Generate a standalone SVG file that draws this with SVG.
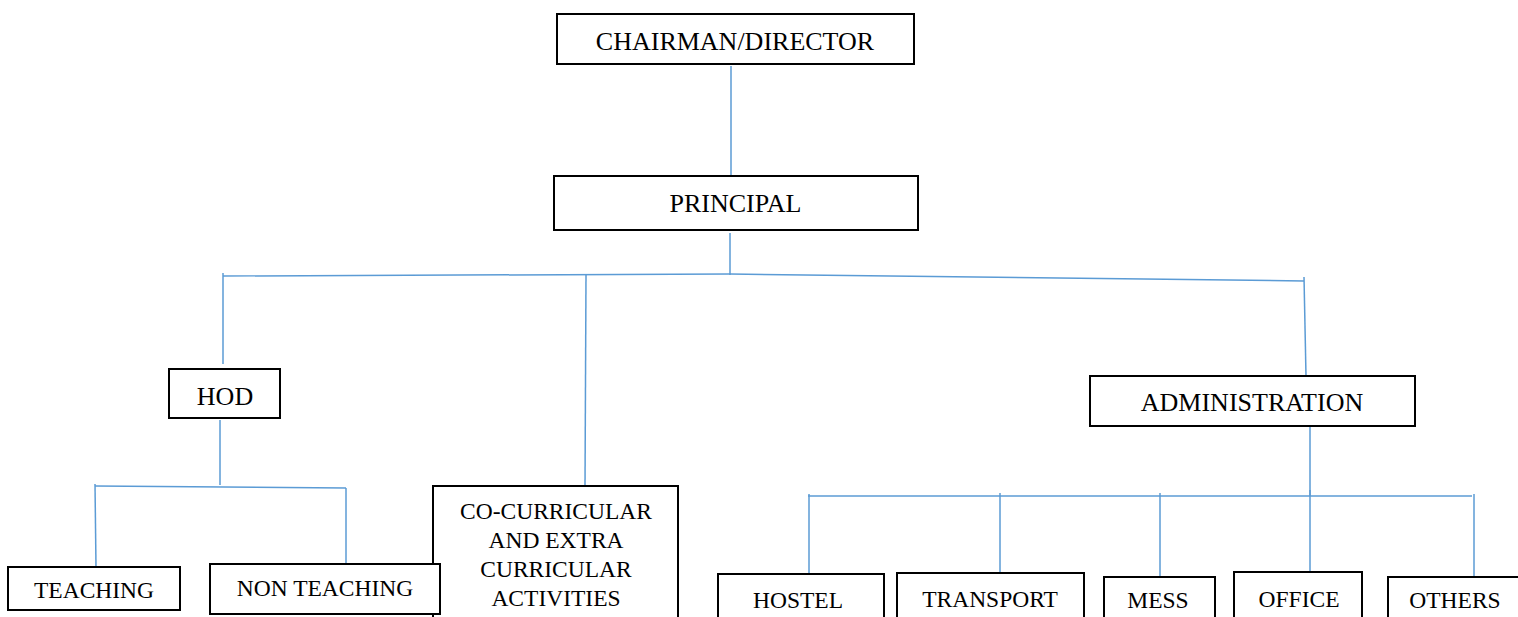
<svg xmlns="http://www.w3.org/2000/svg" width="1518" height="617" viewBox="0 0 1518 617">
<style>
.box{fill:#fff;stroke:#000;stroke-width:2}
.t{font-family:"Liberation Serif","Times New Roman",serif;fill:#000;text-anchor:middle}
.big{font-size:26px}
.sm{font-size:23.5px}
.c{fill:none;stroke:#5B9BD5;stroke-width:1.5}
</style>
<rect width="1518" height="617" fill="#fff"/>
<g id="connectors">
<path class="c" d="M731 66V176"/>
<path class="c" d="M730 233V275"/>
<path class="c" d="M223 276L730 274L1304 281"/>
<path class="c" d="M223 273V364"/>
<path class="c" d="M586 275L585 486"/>
<path class="c" d="M1304 277L1306 376"/>
<path class="c" d="M220 420V485"/>
<path class="c" d="M95 486L346 488"/>
<path class="c" d="M95 484L96 567"/>
<path class="c" d="M346 488V567"/>
<path class="c" d="M1310 426V496"/>
<path class="c" d="M808 496H1472"/>
<path class="c" d="M809 494V576"/>
<path class="c" d="M1000 493V578"/>
<path class="c" d="M1160 493V579"/>
<path class="c" d="M1310 490V577"/>
<path class="c" d="M1474 494V580"/>
</g>
<g id="chairman"><rect class="box" x="557" y="14" width="357" height="50"/><text class="t big" x="735" y="50">CHAIRMAN/DIRECTOR</text></g>
<g id="principal"><rect class="box" x="554" y="176" width="364" height="54"/><text class="t big" x="735.5" y="212">PRINCIPAL</text></g>
<g id="hod"><rect class="box" x="169" y="369" width="111" height="49"/><text class="t big" x="225" y="405">HOD</text></g>
<g id="administration"><rect class="box" x="1090" y="376" width="325" height="50"/><text class="t big" x="1252" y="411">ADMINISTRATION</text></g>
<g id="cocurricular"><rect class="box" x="433" y="486" width="245" height="140"/>
<text class="t sm" x="556" y="519">CO-CURRICULAR</text>
<text class="t sm" x="556" y="548">AND EXTRA</text>
<text class="t sm" x="556" y="577">CURRICULAR</text>
<text class="t sm" x="556" y="606">ACTIVITIES</text></g>
<g id="teaching"><rect class="box" x="8" y="567" width="172" height="43"/><text class="t sm" x="94" y="598">TEACHING</text></g>
<g id="nonteaching"><rect class="box" x="210" y="564" width="230" height="50"/><text class="t sm" x="325" y="596">NON TEACHING</text></g>
<g id="hostel"><rect class="box" x="718" y="574" width="166" height="60"/><text class="t sm" x="798" y="608">HOSTEL</text></g>
<g id="transport"><rect class="box" x="897" y="573" width="187" height="60"/><text class="t sm" x="990" y="607">TRANSPORT</text></g>
<g id="mess"><rect class="box" x="1104" y="577" width="111" height="60"/><text class="t sm" x="1158" y="608">MESS</text></g>
<g id="office"><rect class="box" x="1234" y="572" width="128" height="60"/><text class="t sm" x="1299" y="607">OFFICE</text></g>
<g id="others"><rect class="box" x="1388" y="577" width="140" height="60"/><text class="t sm" x="1455" y="608">OTHERS</text></g>
</svg>
